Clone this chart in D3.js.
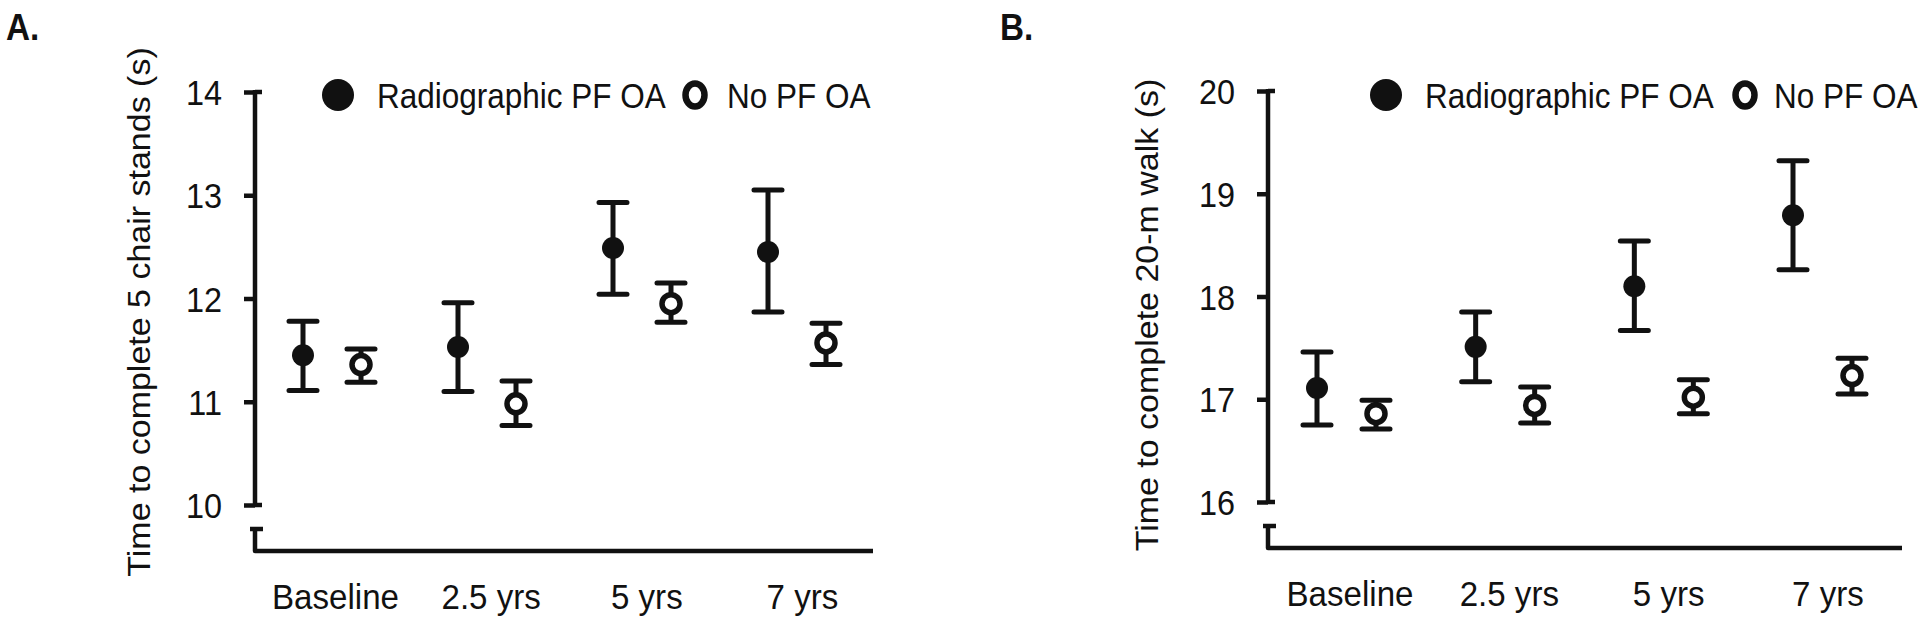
<!DOCTYPE html>
<html>
<head>
<meta charset="utf-8">
<script src="https://cdn.jsdelivr.net/npm/d3@7"></script>
<style>
  html, body { margin: 0; padding: 0; background: #fff; }
  svg { display: block; }
  text { font-family: "Liberation Sans", Arial, sans-serif; fill: #111; }
</style>
</head>
<body>
<svg id="chart" width="1920" height="623"></svg>
<script>
// ---------- data ----------
const categories = ["Baseline", "2.5 yrs", "5 yrs", "7 yrs"];
const seriesNames = ["Radiographic PF OA", "No PF OA"];

// Panel A: time to complete 5 chair stands (s)
const chairPFMean = [11.45, 11.53, 12.49, 12.45];
const chairPFLow  = [11.11, 11.10, 12.04, 11.87];
const chairPFHigh = [11.78, 11.96, 12.93, 13.05];
const chairNoMean = [11.36, 10.98, 11.95, 11.57];
const chairNoLow  = [11.19, 10.77, 11.77, 11.36];
const chairNoHigh = [11.51, 11.20, 12.15, 11.76];
const chairTicks  = [10, 11, 12, 13, 14];

// Panel B: time to complete 20-m walk (s)
const walkPFMean = [17.11, 17.51, 18.10, 18.79];
const walkPFLow  = [16.75, 17.17, 17.67, 18.26];
const walkPFHigh = [17.46, 17.85, 18.54, 19.32];
const walkNoMean = [16.86, 16.94, 17.02, 17.23];
const walkNoLow  = [16.71, 16.77, 16.86, 17.05];
const walkNoHigh = [16.99, 17.12, 17.19, 17.40];
const walkTicks  = [16, 17, 18, 19, 20];

// ---------- layout ----------
const panels = [
  {
    letter: "A.", letterX: 6,
    title: "Time to complete 5 chair stands (s)",
    titleX: 150, titleY: 312,
    ticks: chairTicks,
    pf: [chairPFMean, chairPFLow, chairPFHigh],
    no: [chairNoMean, chairNoLow, chairNoHigh],
    axisX: 255, yTopPx: 92, yBotPx: 505,
    xRange: [303, 768], openOffset: 58, xEnd: 873,
    legFilled: 338, legText1: 377, legOpen: 695, legText2: 727
  },
  {
    letter: "B.", letterX: 1000,
    title: "Time to complete 20-m walk (s)",
    titleX: 1158, titleY: 315,
    ticks: walkTicks,
    pf: [walkPFMean, walkPFLow, walkPFHigh],
    no: [walkNoMean, walkNoLow, walkNoHigh],
    axisX: 1268, yTopPx: 91, yBotPx: 502,
    xRange: [1317, 1793], openOffset: 59, xEnd: 1902,
    legFilled: 1386, legText1: 1425, legOpen: 1745, legText2: 1774
  }
];

const svg = d3.select("#chart");
const SX = 0.9;          // horizontal squeeze of the original figure's lettering
const AXW = 4.5;         // axis stroke width
const EBW = 5;           // error-bar stroke width
const CAP = 14;          // half cap width

function squeezedText(g, x, y, str, size, anchor, weight, sx) {
  return g.append("text")
    .attr("transform", `translate(${x},${y}) scale(${sx || SX},1)`)
    .attr("text-anchor", anchor || "start")
    .style("font-size", size + "px")
    .style("font-weight", weight || "normal")
    .text(str);
}

panels.forEach(p => {
  const g = svg.append("g");
  const lo = p.ticks[0], hi = p.ticks[p.ticks.length - 1];
  const y = d3.scaleLinear().domain([lo, hi]).range([p.yBotPx, p.yTopPx]);
  const x = d3.scalePoint().domain(categories).range(p.xRange);
  const xAxisY = y(lo) + 46;
  const breakY = y(lo) + 24;

  // panel letter
  squeezedText(g, p.letterX, 40, p.letter, 37, "start", "bold");

  // y axis (ticks + labels)
  const yAxis = d3.axisLeft(y).tickValues(p.ticks).tickSize(11).tickSizeOuter(0).tickFormat(d3.format("d"));
  const ya = g.append("g").attr("transform", `translate(${p.axisX},0)`).call(yAxis);
  ya.select(".domain").remove();
  ya.selectAll(".tick line").attr("stroke", "#111").attr("stroke-width", AXW);
  ya.selectAll(".tick text")
    .attr("x", null).attr("dy", null)
    .attr("transform", `translate(-33,12.5) scale(${SX},1)`)
    .style("font-size", "36px")
    .style("font-family", '"Liberation Sans", Arial, sans-serif')
    .attr("fill", "#111");

  // axis spine
  g.append("line")
    .attr("x1", p.axisX).attr("x2", p.axisX)
    .attr("y1", y(hi) - 2).attr("y2", y(lo) + 2)
    .attr("stroke", "#111").attr("stroke-width", AXW);
  // right-side extension of top and bottom ticks
  [hi, lo].forEach(v => {
    g.append("line")
      .attr("x1", p.axisX).attr("x2", p.axisX + 7)
      .attr("y1", y(v)).attr("y2", y(v))
      .attr("stroke", "#111").attr("stroke-width", AXW);
  });
  // axis break and lower segment
  g.append("path")
    .attr("d", `M${p.axisX - 5},${breakY} H${p.axisX + 8} M${p.axisX},${breakY} V${xAxisY} H${p.xEnd}`)
    .attr("fill", "none").attr("stroke", "#111").attr("stroke-width", AXW)
    .attr("stroke-linejoin", "round");

  // x axis labels
  const xl = d3.scalePoint().domain(categories).range([p.xRange[0] + p.openOffset / 2 + 3, p.xRange[1] + p.openOffset / 2 + 5]);
  const xAxis = d3.axisBottom(xl).tickSize(0);
  const xa = g.append("g").attr("transform", `translate(0,${xAxisY})`).call(xAxis);
  xa.select(".domain").remove();
  xa.selectAll(".tick text")
    .attr("y", null).attr("dy", null)
    .attr("transform", `translate(0,58) scale(0.92,1)`)
    .style("font-size", "36px")
    .style("font-family", '"Liberation Sans", Arial, sans-serif')
    .attr("fill", "#111");

  // y title
  g.append("text")
    .attr("transform", `translate(${p.titleX},${p.titleY}) rotate(-90) scale(1,${SX})`)
    .attr("text-anchor", "middle")
    .style("font-size", "34px")
    .text(p.title);

  // legend
  const ly = 95;
  g.append("circle").attr("cx", p.legFilled).attr("cy", ly).attr("r", 16).attr("fill", "#111");
  squeezedText(g, p.legText1, ly + 12.5, seriesNames[0], 35);
  g.append("ellipse").attr("cx", p.legOpen).attr("cy", ly).attr("rx", 9.5).attr("ry", 11.5)
    .attr("fill", "#fff").attr("stroke", "#111").attr("stroke-width", 6.5);
  squeezedText(g, p.legText2, ly + 12.5, seriesNames[1], 35);

  // data: error bars + markers
  const series = [
    { vals: p.pf, dx: 0, open: false },
    { vals: p.no, dx: p.openOffset, open: true }
  ];
  series.forEach(s => {
    const rows = categories.map((c, i) => ({ c, m: s.vals[0][i], l: s.vals[1][i], h: s.vals[2][i] }));
    const eg = g.append("g").selectAll("g").data(rows).join("g")
      .attr("transform", d => `translate(${x(d.c) + s.dx},0)`);
    eg.append("path")
      .attr("d", d => `M0,${y(d.h)} V${y(d.l)} M${-CAP},${y(d.h)} H${CAP} M${-CAP},${y(d.l)} H${CAP}`)
      .attr("fill", "none").attr("stroke", "#111").attr("stroke-width", EBW)
      .attr("stroke-linecap", "round");
    if (s.open) {
      eg.append("circle").attr("cx", 0).attr("cy", d => y(d.m)).attr("r", 9)
        .attr("fill", "#fff").attr("stroke", "#111").attr("stroke-width", 5.5);
    } else {
      eg.append("circle").attr("cx", 0).attr("cy", d => y(d.m)).attr("r", 11).attr("fill", "#111");
    }
  });
});
</script>
</body>
</html>
